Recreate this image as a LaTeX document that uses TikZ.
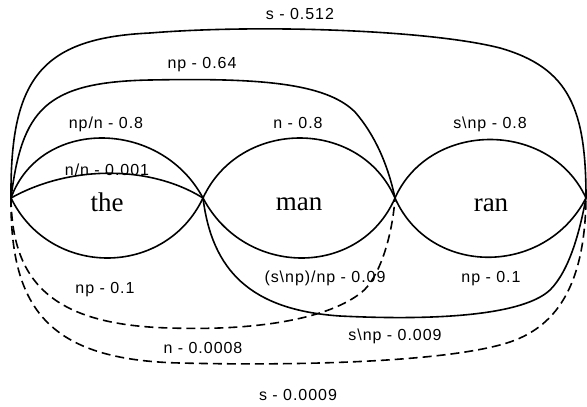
\documentclass[tikz,border=0pt]{standalone}
\usepackage{fontspec}
\setmainfont{Liberation Serif}
\newfontfamily\lblfont[LetterSpace=6]{Liberation Sans}
\begin{document}
\begin{tikzpicture}[x=1pt,y=-1pt,
  arc/.style={line width=1.6pt},
  dasharc/.style={line width=1.6pt,dash pattern=on 9pt off 5pt},
  lbl/.style={anchor=base,inner sep=0pt,font=\lblfont\fontsize{16}{18}\selectfont},
  word/.style={anchor=base,inner sep=0pt,font=\fontsize{27}{30}\selectfont}]
\useasboundingbox (0,0) rectangle (587,407);
\coordinate (P0) at (11,198);
\coordinate (P1) at (203,198);
\coordinate (P2) at (395,198);
\coordinate (P3) at (586,198);
% words
\node[word] (the) at (107,211) {the};
\node[word] (man) at (299,210) {man};
\node[word] (ran) at (491,211) {ran};
% upper arcs
\draw[arc] (P0) .. controls (70,165) and (150,165) .. (P1);
\draw[arc] (P0) .. controls (40,118) and (160,118) .. (P1);
\draw[arc] (P1) .. controls (240,118) and (360,118) .. (P2);
\draw[arc] (P2) .. controls (430,120) and (550,120) .. (P3);
\draw[arc] (P0) .. controls (22,110) and (45,82) .. (150,80)
  .. controls (255,78) and (325,82) .. (355,112)
  .. controls (375,135) and (388,165) .. (P2);
\draw[arc] (P0) .. controls (10,80) and (40,38) .. (150,33)
  .. controls (260,24) and (430,30) .. (500,48)
  .. controls (570,68) and (586,110) .. (P3);
% lower arcs
\draw[arc] (P0) .. controls (50,278) and (165,278) .. (P1);
\draw[arc] (P1) .. controls (245,278) and (360,278) .. (P2);
\draw[arc] (P2) .. controls (430,277) and (545,277) .. (P3);
\draw[arc] (P1) .. controls (212,270) and (250,310) .. (340,316)
  .. controls (420,320) and (520,318) .. (550,290)
  .. controls (570,270) and (580,230) .. (P3);
% dashed arcs
\draw[dasharc] (P0) .. controls (12,280) and (50,325) .. (170,328)
  .. controls (260,331) and (330,318) .. (362,292)
  .. controls (378,279) and (392,240) .. (P2);
\draw[dasharc] (P0) .. controls (10,310) and (50,360) .. (180,363)
  .. controls (300,366) and (450,362) .. (510,342)
  .. controls (560,325) and (585,280) .. (P3);
% labels
\node[lbl] (l1) at (300,19) {s - 0.512};
\node[lbl] (l2) at (202,68) {np - 0.64};
\node[lbl] (l3) at (106,128) {np/n - 0.8};
\node[lbl] (l4) at (107,175) {n/n - 0.001};
\node[lbl] (l5) at (298,128) {n - 0.8};
\node[lbl] (l6) at (490,128) {s\textbackslash np - 0.8};
\node[lbl] (l7) at (105,293) {np - 0.1};
\node[lbl] (l8) at (325,282) {(s\textbackslash np)/np - 0.09};
\node[lbl] (l9) at (491,282) {np - 0.1};
\node[lbl] (l10) at (395,340) {s\textbackslash np - 0.009};
\node[lbl] (l11) at (203,353) {n - 0.0008};
\node[lbl] (l12) at (298,400) {s - 0.0009};
\end{tikzpicture}
\end{document}
